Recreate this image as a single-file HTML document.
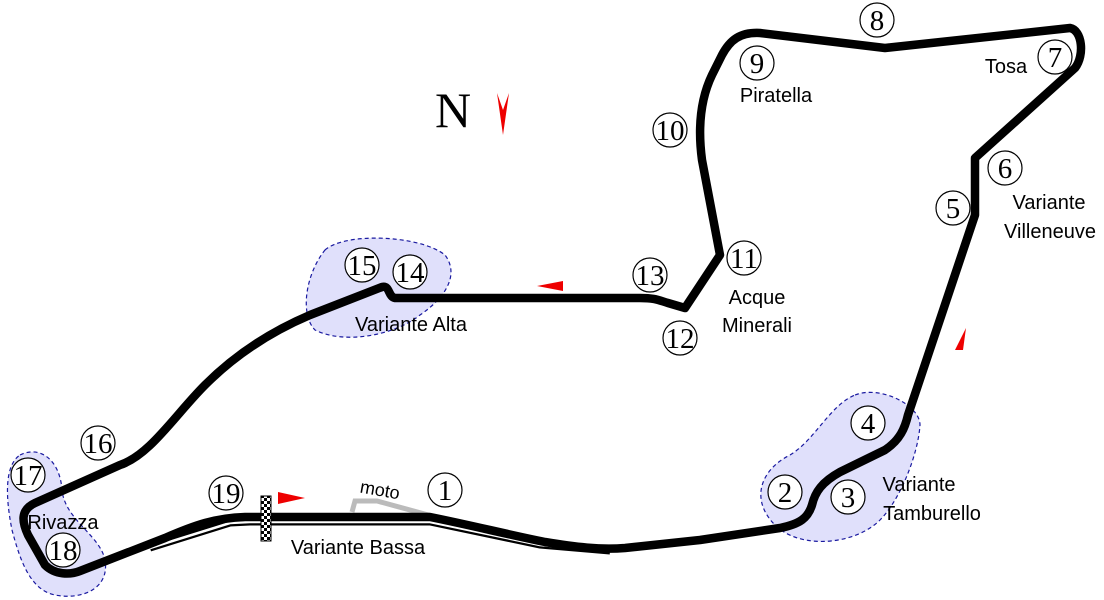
<!DOCTYPE html>
<html><head><meta charset="utf-8"><style>
html,body{margin:0;padding:0;background:#fff;width:1104px;height:600px;overflow:hidden}
svg{display:block}
.n{font-family:"Liberation Serif",serif;font-size:29px;text-anchor:middle}
.l{font-family:"Liberation Sans",sans-serif;font-size:20px;text-anchor:middle}
circle.c{fill:#fff;stroke:#000;stroke-width:1.2}
</style></head><body>
<svg width="1104" height="600" viewBox="0 0 1104 600" xmlns="http://www.w3.org/2000/svg">
<defs>
<pattern id="chk" width="6" height="6" patternUnits="userSpaceOnUse">
<rect width="6" height="6" fill="#fff"/><rect width="3" height="3" fill="#000"/><rect x="3" y="3" width="3" height="3" fill="#000"/>
</pattern>
</defs>
<g fill="#e0e0fb" stroke="#1a1aa0" stroke-width="1.2" stroke-dasharray="4,3">
<path d="M325,250 C345,232 420,235 445,255 C460,275 445,298 420,315 C395,335 345,345 315,330 C300,315 305,275 325,250Z"/>
<path d="M20,455 C40,445 60,460 62,490 C65,520 100,535 105,560 C110,590 80,600 55,595 C30,590 20,560 12,530 C5,495 5,465 20,455Z"/>
<path d="M855,395 C880,385 920,405 920,425 C918,455 900,500 880,520 C855,545 800,550 775,525 C750,500 760,470 790,455 C815,440 830,405 855,395Z"/>
</g>
<path d="M352,512 L355,501 L377,501 L432,516" fill="none" stroke="#bbb" stroke-width="5"/>
<path d="M150,548 L230,523 L250,522 L430,522 L540,545 L610,551" fill="none" stroke="#000" stroke-width="7"/>
<path d="M150,548 L230,523 L250,522 L430,522 L540,545 L610,551" fill="none" stroke="#fff" stroke-width="2.5"/>
<path d="M265,517 L430,517 C470,525 510,535 545,542 C575,547 600,550 625,548 L700,540 L780,528 C800,524 808,518 812,505 C815,492 822,482 840,472 L885,450 C900,440 905,428 908,415 L975,215 L975,158 L1075,68 C1085,55 1082,30 1070,28 L885,48 L760,33 C740,32 730,40 722,55 L712,75 C700,100 698,130 702,160 L720,255 L685,308 L668,303 C658,300 655,298 640,298 L395,298 C388,297 390,285 382,287 L310,315 C270,332 235,355 205,385 C175,415 150,455 120,465 L35,503 C20,510 22,522 28,535 L45,565 C55,575 70,575 80,571 L165,538 C195,525 215,518 245,517 Z" fill="none" stroke="#000" stroke-width="8.5" stroke-linejoin="round"/>
<rect x="261" y="496" width="10" height="45" fill="url(#chk)" stroke="#000" stroke-width="1"/>
<g fill="#e00">
<polygon points="278,492 305,498 278,504"/>
<polygon points="563,281 563,291 537,286"/>
<polygon points="955,350 966,328 963,350"/>
<polygon points="497,93 503,110 509,93 503,135"/>
</g>
<text x="453" y="127" font-family="Liberation Serif,serif" font-size="50" text-anchor="middle">N</text>
<g>
<circle class="c" cx="445" cy="490" r="17"/><text class="n" x="445" y="500">1</text>
<circle class="c" cx="785" cy="492" r="17"/><text class="n" x="785" y="502">2</text>
<circle class="c" cx="848" cy="497" r="17"/><text class="n" x="848" y="507">3</text>
<circle class="c" cx="868" cy="423" r="17"/><text class="n" x="868" y="433">4</text>
<circle class="c" cx="953" cy="208" r="17"/><text class="n" x="953" y="218">5</text>
<circle class="c" cx="1005" cy="168" r="17"/><text class="n" x="1005" y="178">6</text>
<circle class="c" cx="1055" cy="57" r="17"/><text class="n" x="1055" y="67">7</text>
<circle class="c" cx="877" cy="20" r="17"/><text class="n" x="877" y="30">8</text>
<circle class="c" cx="757" cy="63" r="17"/><text class="n" x="757" y="73">9</text>
<circle class="c" cx="670" cy="130" r="17"/><text class="n" x="670" y="140">10</text>
<circle class="c" cx="744" cy="258" r="17"/><text class="n" x="744" y="268">11</text>
<circle class="c" cx="680" cy="338" r="17"/><text class="n" x="680" y="348">12</text>
<circle class="c" cx="650" cy="275" r="17"/><text class="n" x="650" y="285">13</text>
<circle class="c" cx="410" cy="272" r="17"/><text class="n" x="410" y="282">14</text>
<circle class="c" cx="362" cy="265" r="17"/><text class="n" x="362" y="275">15</text>
<circle class="c" cx="98" cy="443" r="17"/><text class="n" x="98" y="453">16</text>
<circle class="c" cx="28" cy="475" r="17"/><text class="n" x="28" y="485">17</text>
<circle class="c" cx="63" cy="550" r="17"/><text class="n" x="63" y="560">18</text>
<circle class="c" cx="226" cy="493" r="17"/><text class="n" x="226" y="503">19</text>
</g>
<g>
<text class="l" x="1006" y="73">Tosa</text>
<text class="l" x="776" y="102">Piratella</text>
<text class="l" x="1049" y="209">Variante</text>
<text class="l" x="1050" y="238">Villeneuve</text>
<text class="l" x="757" y="304">Acque</text>
<text class="l" x="757" y="332">Minerali</text>
<text class="l" x="919" y="491">Variante</text>
<text class="l" x="932" y="520">Tamburello</text>
<text class="l" x="411" y="331">Variante Alta</text>
<text class="l" x="63" y="529">Rivazza</text>
<text class="l" x="358" y="554">Variante Bassa</text>
<text class="l" x="380" y="496" transform="rotate(10 380 490)" style="font-size:18px">moto</text>
</g>
</svg>
</body></html>
